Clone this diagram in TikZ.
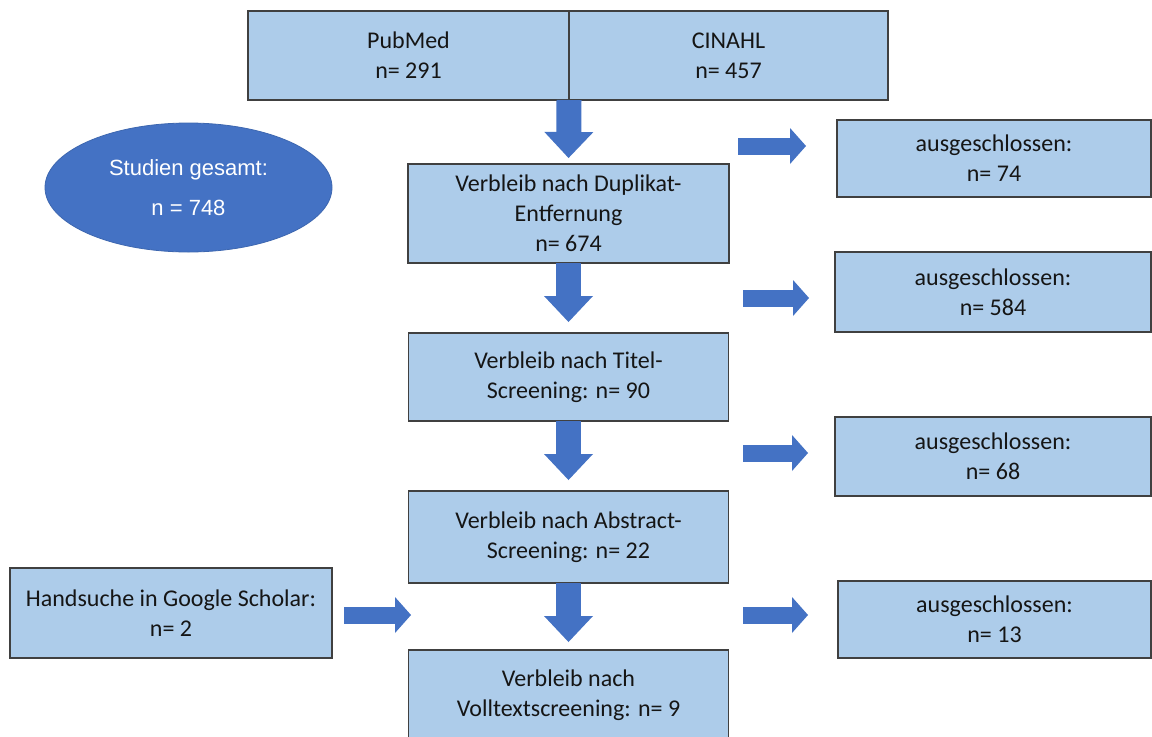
\documentclass[tikz,border=0pt]{standalone}
\usepackage{fontspec}
\setmainfont{Carlito}
\newfontfamily\arialfont{Liberation Sans}
\usetikzlibrary{arrows.meta,shapes.geometric}
\definecolor{boxfill}{HTML}{ADCCEA}
\definecolor{boxline}{HTML}{404040}
\definecolor{blk}{HTML}{4472C4}
\definecolor{txt}{HTML}{151515}
\tikzset{
  fbox/.style={draw=boxline, fill=boxfill, line width=1.1pt, inner sep=0pt, outer sep=0pt,
    align=center, text=txt, font=\fontsize{18pt}{22.5pt}\selectfont},
  downarrow/.style={draw=blk, line width=18.75pt,
    -{Triangle[length=19.5pt, width=36.75pt, line width=0pt]}},
  sidearrow/.style={draw=blk, line width=12.75pt,
    -{Triangle[length=12pt, width=27pt, line width=0pt]}}
}
\begin{document}
\begin{tikzpicture}[x=0.75pt, y=-0.75pt]
\clip (0,0) rectangle (1152,736);
\fill[white] (0,0) rectangle (1152,736);
% top database boxes
\node[fbox, minimum width=321*0.75pt, minimum height=89*0.75pt] (pub) at (408.5,55.5) {PubMed\\n= 291};
\node[fbox, minimum width=319*0.75pt, minimum height=89*0.75pt] (cin) at (728.5,55.5) {CINAHL\\n= 457};
% ellipse
\node[ellipse, fill=blk, draw=blk!90!black, line width=0.6pt, inner sep=0pt,
  minimum width=287*0.75pt, minimum height=129*0.75pt, text=white, align=center,
  font=\arialfont\fontsize{16.5pt}{30pt}\selectfont] (ell) at (188.5,187.5) {Studien gesamt:\\n = 748};
% main column
\node[fbox, minimum width=321*0.75pt, minimum height=99*0.75pt] (box1) at (568.5,213.5) {Verbleib nach Duplikat-\\Entfernung\\n= 674};
\node[fbox, minimum width=320*0.75pt, minimum height=88*0.75pt] (box2) at (568.5,377) {Verbleib nach Titel-\\Screening: n= 90};
\node[fbox, minimum width=320*0.75pt, minimum height=92*0.75pt] (box3) at (568.5,537) {Verbleib nach Abstract-\\Screening: n= 22};
\node[fbox, minimum width=320*0.75pt, minimum height=91*0.75pt] (box4) at (568.5,695.5) {Verbleib nach\\Volltextscreening: n= 9};
% excluded boxes
\node[fbox, minimum width=314*0.75pt, minimum height=77*0.75pt] (ex1) at (994,158.5) {ausgeschlossen:\\n= 74};
\node[fbox, minimum width=316*0.75pt, minimum height=80*0.75pt] (ex2) at (993,292) {ausgeschlossen:\\n= 584};
\node[fbox, minimum width=316*0.75pt, minimum height=79*0.75pt] (ex3) at (993,456.5) {ausgeschlossen:\\n= 68};
\node[fbox, minimum width=313*0.75pt, minimum height=77*0.75pt] (ex4) at (994.5,619.5) {ausgeschlossen:\\n= 13};
% hand search
\node[fbox, minimum width=322*0.75pt, minimum height=90*0.75pt] (hand) at (171,613) {Handsuche in Google Scholar:\\n= 2};
% down arrows
\draw[downarrow, shorten >=4.5pt] (pub.south east) -- (box1.north);
\draw[downarrow, shorten >=8.25pt] (box1.south) -- (box2.north);
\draw[downarrow, shorten >=8.25pt] (box2.south) -- (box3.north);
\draw[downarrow, shorten >=6pt] (box3.south) -- (box4.north);
% side arrows
\coordinate (r1s) at (738,146); \coordinate (r1e) at (806,146);
\coordinate (r2s) at (743,298); \coordinate (r2e) at (809,298);
\coordinate (r3s) at (743,453); \coordinate (r3e) at (808,453);
\coordinate (r4s) at (344,615); \coordinate (r4e) at (411,615);
\coordinate (r5s) at (743,615); \coordinate (r5e) at (808,615);
\draw[sidearrow] (r1s) -- (r1e);
\draw[sidearrow] (r2s) -- (r2e);
\draw[sidearrow] (r3s) -- (r3e);
\draw[sidearrow] (r4s) -- (r4e);
\draw[sidearrow] (r5s) -- (r5e);
\end{tikzpicture}
\end{document}
